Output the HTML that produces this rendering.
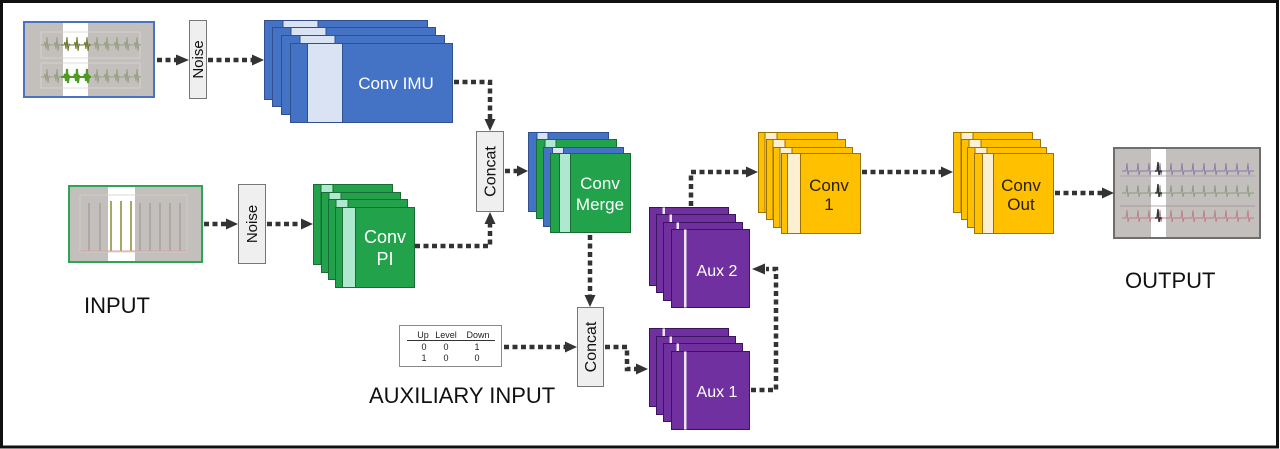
<!DOCTYPE html>
<html><head><meta charset="utf-8"><style>
html,body{margin:0;padding:0;background:#fff;}
svg{display:block;}
text{font-family:"Liberation Sans",Arial,sans-serif;}
</style></head><body>
<svg width="1280" height="449" viewBox="0 0 1280 449" xmlns="http://www.w3.org/2000/svg">
<rect x="0" y="0" width="1280" height="449" fill="#fff"/>
<rect x="1.5" y="1.5" width="1276" height="445.5" fill="none" stroke="#111" stroke-width="3"/>

<!-- IMU input image -->
<rect x="24" y="22" width="130" height="75" fill="#c3bfbc" stroke="#4a72c0" stroke-width="2"/>
<rect x="63" y="23" width="25" height="73" fill="#fff"/>
<rect x="41" y="32" width="99" height="26" fill="none" stroke="#d9d5d0" stroke-width="0.8"/>
<rect x="41" y="63" width="99" height="25" fill="none" stroke="#d9d5d0" stroke-width="0.8"/>
<path d="M41 45 h3 l1 -3 l1 7 l1 -12 l1 14 l1 -7 l1 1 h1 h3 l1 -3 l1 7 l1 -12 l1 14 l1 -7 l1 1 h1 h3 l1 -3 l1 7 l1 -12 l1 14 l1 -7 l1 1 h1 h3 l1 -3 l1 7 l1 -12 l1 14 l1 -7 l1 1 h1 h3 l1 -3 l1 7 l1 -12 l1 14 l1 -7 l1 1 h1 h3 l1 -3 l1 7 l1 -12 l1 14 l1 -7 l1 1 h1 h3 l1 -3 l1 7 l1 -12 l1 14 l1 -7 l1 1 h1 h3 l1 -3 l1 7 l1 -12 l1 14 l1 -7 l1 1 h1 h3 l1 -3 l1 7 l1 -12 l1 14 l1 -7 l1 1 h1 h3 l1 -3 l1 7 l1 -12 l1 14 l1 -7 l1 1 h1" fill="none" stroke="#8f9a7a" stroke-width="0.8"/>
<path d="M61 45 h3 l1 -3 l1 7 l1 -12 l1 14 l1 -7 l1 1 h1 h3 l1 -3 l1 7 l1 -12 l1 14 l1 -7 l1 1 h1 h3 l1 -3 l1 7 l1 -12 l1 14 l1 -7 l1 1 h1" fill="none" stroke="#6b7a2a" stroke-width="1"/>
<path d="M41 77 h3 l1 -3 l1 7 l1 -12 l1 14 l1 -7 l1 1 h1 h3 l1 -3 l1 7 l1 -12 l1 14 l1 -7 l1 1 h1 h3 l1 -3 l1 7 l1 -12 l1 14 l1 -7 l1 1 h1 h3 l1 -3 l1 7 l1 -12 l1 14 l1 -7 l1 1 h1 h3 l1 -3 l1 7 l1 -12 l1 14 l1 -7 l1 1 h1 h3 l1 -3 l1 7 l1 -12 l1 14 l1 -7 l1 1 h1 h3 l1 -3 l1 7 l1 -12 l1 14 l1 -7 l1 1 h1 h3 l1 -3 l1 7 l1 -12 l1 14 l1 -7 l1 1 h1 h3 l1 -3 l1 7 l1 -12 l1 14 l1 -7 l1 1 h1 h3 l1 -3 l1 7 l1 -12 l1 14 l1 -7 l1 1 h1" fill="none" stroke="#8f9a7a" stroke-width="0.8"/>
<path d="M61 77 h3 l1 -3 l1 7 l1 -12 l1 14 l1 -7 l1 1 h1 h3 l1 -3 l1 7 l1 -12 l1 14 l1 -7 l1 1 h1 h3 l1 -3 l1 7 l1 -12 l1 14 l1 -7 l1 1 h1" fill="none" stroke="#4f9a22" stroke-width="2"/>

<!-- PI input image -->
<rect x="69" y="186" width="133" height="76" fill="#c3bfbc" stroke="#2fa455" stroke-width="2"/>
<rect x="108" y="187" width="27" height="74" fill="#fff"/>
<rect x="80" y="195" width="107" height="57" fill="none" stroke="#d6cfcc" stroke-width="0.8"/>
<g stroke="#9a918c" stroke-width="1">
<line x1="89" y1="203" x2="89" y2="251"/><line x1="100" y1="203" x2="100" y2="251"/>
<line x1="140" y1="203" x2="140" y2="251"/><line x1="150" y1="203" x2="150" y2="251"/>
<line x1="160" y1="203" x2="160" y2="251"/><line x1="170" y1="203" x2="170" y2="251"/>
<line x1="180" y1="203" x2="180" y2="251"/>
</g>
<g stroke="#8a8a30" stroke-width="1.5">
<line x1="111" y1="201" x2="111" y2="251"/><line x1="121" y1="201" x2="121" y2="251"/><line x1="131" y1="201" x2="131" y2="251"/>
</g>
<line x1="80" y1="251" x2="187" y2="251" stroke="#d9a0a0" stroke-width="1"/>

<!-- Output image -->
<rect x="1114" y="148" width="146" height="90" fill="#c3bfbc" stroke="#6e6e6e" stroke-width="2"/>
<rect x="1151" y="149" width="15" height="88" fill="#fff"/>
<line x1="1120" y1="176" x2="1255" y2="176" stroke="#a99ab0" stroke-width="0.8"/>
<line x1="1120" y1="206" x2="1255" y2="206" stroke="#9a8f8f" stroke-width="0.8"/>
<path d="M1122 171 h4 l1 -8 l1 12 l1 -4 h4 h4 l1 -8 l1 12 l1 -4 h4 h4 l1 -8 l1 12 l1 -4 h4 h4 l1 -8 l1 12 l1 -4 h4 h4 l1 -8 l1 12 l1 -4 h4 h4 l1 -8 l1 12 l1 -4 h4 h4 l1 -8 l1 12 l1 -4 h4 h4 l1 -8 l1 12 l1 -4 h4 h4 l1 -8 l1 12 l1 -4 h4 h4 l1 -8 l1 12 l1 -4 h4 h4 l1 -8 l1 12 l1 -4 h4 h4 l1 -8 l1 12 l1 -4 h4" fill="none" stroke="#8a7aa8" stroke-width="0.9"/>
<path d="M1122 193 h4 l1 -8 l1 12 l1 -4 h4 h4 l1 -8 l1 12 l1 -4 h4 h4 l1 -8 l1 12 l1 -4 h4 h4 l1 -8 l1 12 l1 -4 h4 h4 l1 -8 l1 12 l1 -4 h4 h4 l1 -8 l1 12 l1 -4 h4 h4 l1 -8 l1 12 l1 -4 h4 h4 l1 -8 l1 12 l1 -4 h4 h4 l1 -8 l1 12 l1 -4 h4 h4 l1 -8 l1 12 l1 -4 h4 h4 l1 -8 l1 12 l1 -4 h4 h4 l1 -8 l1 12 l1 -4 h4" fill="none" stroke="#8a9a80" stroke-width="0.9"/>
<path d="M1122 218 h4 l1 -8 l1 12 l1 -4 h4 h4 l1 -8 l1 12 l1 -4 h4 h4 l1 -8 l1 12 l1 -4 h4 h4 l1 -8 l1 12 l1 -4 h4 h4 l1 -8 l1 12 l1 -4 h4 h4 l1 -8 l1 12 l1 -4 h4 h4 l1 -8 l1 12 l1 -4 h4 h4 l1 -8 l1 12 l1 -4 h4 h4 l1 -8 l1 12 l1 -4 h4 h4 l1 -8 l1 12 l1 -4 h4 h4 l1 -8 l1 12 l1 -4 h4 h4 l1 -8 l1 12 l1 -4 h4" fill="none" stroke="#c07a88" stroke-width="0.9"/>
<path d="M1155 171 h2 l1 -9 l1 13 l1 -4 h2 M1155 193 h2 l1 -9 l1 13 l1 -4 h2 M1155 218 h2 l1 -9 l1 13 l1 -4 h2" fill="none" stroke="#333" stroke-width="1.4"/>

<!-- Noise / Concat boxes -->
<rect x="189.5" y="20.5" width="17" height="78" fill="#efefef" stroke="#777" stroke-width="1"/>
<text x="0" y="0" transform="translate(203,59.5) rotate(-90)" font-size="15" text-anchor="middle" fill="#111">Noise</text>
<rect x="238.5" y="184.5" width="27" height="79" fill="#efefef" stroke="#777" stroke-width="1"/>
<text x="0" y="0" transform="translate(257,224) rotate(-90)" font-size="15" text-anchor="middle" fill="#111">Noise</text>
<rect x="476.5" y="131.5" width="27" height="80" fill="#efefef" stroke="#777" stroke-width="1"/>
<text x="0" y="0" transform="translate(495.5,171.5) rotate(-90)" font-size="16" text-anchor="middle" fill="#111">Concat</text>
<rect x="577.5" y="307.5" width="26" height="79" fill="#efefef" stroke="#777" stroke-width="1"/>
<text x="0" y="0" transform="translate(596,347) rotate(-90)" font-size="16" text-anchor="middle" fill="#111">Concat</text>

<!-- Conv IMU stack -->
<g stroke="#2f4f8f" stroke-width="1">
<rect x="264.5" y="20.5" width="163" height="79" fill="#4472c4"/><rect x="283" y="20.5" width="35" height="79" fill="#dae3f3"/>
<rect x="272.5" y="27.5" width="163" height="79" fill="#4472c4"/><rect x="291" y="27.5" width="35" height="79" fill="#dae3f3"/>
<rect x="281.5" y="35.5" width="163" height="79" fill="#4472c4"/><rect x="300" y="35.5" width="35" height="79" fill="#dae3f3"/>
<rect x="290.5" y="43.5" width="162" height="79" fill="#4472c4"/><rect x="307.5" y="43.5" width="35" height="79" fill="#dae3f3"/>
</g>
<text x="396" y="89" font-size="17" fill="#fff" text-anchor="middle">Conv IMU</text>

<!-- Conv PI stack -->
<g stroke="#1a6b36" stroke-width="1">
<rect x="313.5" y="184.5" width="79" height="80" fill="#22a34b"/><rect x="321" y="184.5" width="12" height="80" fill="#aee9cf"/>
<rect x="321.5" y="192.5" width="79" height="80" fill="#22a34b"/><rect x="329" y="192.5" width="12" height="80" fill="#aee9cf"/>
<rect x="328.5" y="199.5" width="79" height="80" fill="#22a34b"/><rect x="336" y="199.5" width="12" height="80" fill="#aee9cf"/>
<rect x="335.5" y="207.5" width="79" height="80" fill="#22a34b"/><rect x="342.5" y="207.5" width="13" height="80" fill="#aee9cf"/>
</g>
<text x="385" y="243" font-size="18" fill="#fff" text-anchor="middle">Conv</text>
<text x="385" y="265" font-size="18" fill="#fff" text-anchor="middle">PI</text>

<!-- Conv Merge stack -->
<g stroke-width="1">
<rect x="528.5" y="132.5" width="80" height="79" fill="#4472c4" stroke="#2f4f8f"/><rect x="537" y="132.5" width="11" height="79" fill="#dae3f3" stroke="#2f4f8f"/>
<rect x="536.5" y="139.5" width="80" height="79" fill="#22a34b" stroke="#1a6b36"/><rect x="545" y="139.5" width="11" height="79" fill="#aee9cf" stroke="#1a6b36"/>
<rect x="543.5" y="147.5" width="80" height="79" fill="#4472c4" stroke="#2f4f8f"/><rect x="552.5" y="147.5" width="11" height="79" fill="#dae3f3" stroke="#2f4f8f"/>
<rect x="550.5" y="153.5" width="80" height="79" fill="#22a34b" stroke="#1a6b36"/><rect x="559.5" y="153.5" width="11" height="79" fill="#aee9cf" stroke="#1a6b36"/>
</g>
<text x="600" y="189" font-size="17" fill="#fff" text-anchor="middle">Conv</text>
<text x="600" y="210" font-size="17" fill="#fff" text-anchor="middle">Merge</text>

<!-- Aux 2 stack -->
<g stroke="#3b1460" stroke-width="1">
<rect x="649.5" y="207.5" width="79" height="78" fill="#7030a0"/><rect x="662.5" y="207.5" width="2.5" height="78" fill="#ece4f2" stroke="none"/>
<rect x="656.5" y="214.5" width="79" height="78" fill="#7030a0"/><rect x="669.5" y="214.5" width="2.5" height="78" fill="#ece4f2" stroke="none"/>
<rect x="663.5" y="222.5" width="79" height="78" fill="#7030a0"/><rect x="676.5" y="222.5" width="2.5" height="78" fill="#ece4f2" stroke="none"/>
<rect x="671.5" y="229.5" width="78" height="78" fill="#7030a0"/><rect x="684" y="229.5" width="2.5" height="78" fill="#ece4f2" stroke="none"/>
</g>
<text x="717" y="276" font-size="16" fill="#fff" text-anchor="middle">Aux 2</text>

<!-- Aux 1 stack -->
<g stroke="#3b1460" stroke-width="1">
<rect x="649.5" y="328.5" width="79" height="78" fill="#7030a0"/><rect x="662.5" y="328.5" width="2.5" height="78" fill="#ece4f2" stroke="none"/>
<rect x="656.5" y="336.5" width="79" height="78" fill="#7030a0"/><rect x="669.5" y="336.5" width="2.5" height="78" fill="#ece4f2" stroke="none"/>
<rect x="663.5" y="343.5" width="79" height="78" fill="#7030a0"/><rect x="676.5" y="343.5" width="2.5" height="78" fill="#ece4f2" stroke="none"/>
<rect x="671.5" y="351.5" width="78" height="78" fill="#7030a0"/><rect x="684" y="351.5" width="2.5" height="78" fill="#ece4f2" stroke="none"/>
</g>
<text x="717" y="397" font-size="16" fill="#fff" text-anchor="middle">Aux 1</text>

<!-- Conv 1 stack -->
<g stroke="#9a7400" stroke-width="1">
<rect x="758.5" y="132.5" width="79" height="80" fill="#ffc000"/><rect x="765" y="132.5" width="12" height="80" fill="#fdf0d2"/>
<rect x="766.5" y="139.5" width="79" height="80" fill="#ffc000"/><rect x="773" y="139.5" width="12" height="80" fill="#fdf0d2"/>
<rect x="773.5" y="147.5" width="79" height="80" fill="#ffc000"/><rect x="780" y="147.5" width="12" height="80" fill="#fdf0d2"/>
<rect x="781.5" y="153.5" width="79" height="80" fill="#ffc000"/><rect x="787.5" y="153.5" width="13" height="80" fill="#fdf0d2"/>
</g>
<text x="829" y="191" font-size="17" fill="#2a2000" text-anchor="middle">Conv</text>
<text x="829" y="210" font-size="17" fill="#2a2000" text-anchor="middle">1</text>

<!-- Conv Out stack -->
<g stroke="#9a7400" stroke-width="1">
<rect x="953.5" y="132.5" width="79" height="80" fill="#ffc000"/><rect x="961" y="132.5" width="12" height="80" fill="#fdf0d2"/>
<rect x="961.5" y="139.5" width="79" height="80" fill="#ffc000"/><rect x="969" y="139.5" width="12" height="80" fill="#fdf0d2"/>
<rect x="967.5" y="147.5" width="79" height="80" fill="#ffc000"/><rect x="975" y="147.5" width="12" height="80" fill="#fdf0d2"/>
<rect x="974.5" y="153.5" width="79" height="80" fill="#ffc000"/><rect x="982.5" y="153.5" width="11" height="80" fill="#fdf0d2"/>
</g>
<text x="1021" y="191" font-size="17" fill="#2a2000" text-anchor="middle">Conv</text>
<text x="1021" y="210" font-size="17" fill="#2a2000" text-anchor="middle">Out</text>

<!-- Aux input table -->
<rect x="399.5" y="325.5" width="102" height="41" fill="#fff" stroke="#8a8a8a" stroke-width="1"/>
<line x1="407" y1="340.5" x2="495" y2="340.5" stroke="#333" stroke-width="1"/>
<g font-size="9" fill="#222" text-anchor="middle">
<text x="423" y="338">Up</text><text x="446" y="338">Level</text><text x="478" y="338">Down</text>
<text x="424" y="350">0</text><text x="446" y="350">0</text><text x="477" y="350">1</text>
<text x="424" y="361">1</text><text x="446" y="361">0</text><text x="477" y="361">0</text>
</g>

<!-- Labels -->
<text x="84" y="313" font-size="22" fill="#111">INPUT</text>
<text x="369" y="403" font-size="22" fill="#111">AUXILIARY INPUT</text>
<text x="1125" y="288" font-size="22" fill="#111">OUTPUT</text>

<!-- Connectors -->
<g fill="none" stroke="#333" stroke-width="4.5" stroke-dasharray="5 3.5">
<path d="M157 60 H176"/>
<path d="M208 60 H252"/>
<path d="M454 82 H490 V119"/>
<path d="M204 224 H226"/>
<path d="M267 224 H301"/>
<path d="M415 246 H490 V224"/>
<path d="M505 171 H517"/>
<path d="M590 235 V295"/>
<path d="M504 347 H565"/>
<path d="M605 347 H627 V369 H636"/>
<path d="M751 390 H776 V269 H766"/>
<path d="M691 206 V172 H746"/>
<path d="M862 172 H941"/>
<path d="M1055 193 H1102"/>
</g>
<g fill="#333">
<polygon points="176,54.5 189,60 176,65.5"/>
<polygon points="252,54.5 264,60 252,65.5"/>
<polygon points="484.5,119 495.5,119 490,131"/>
<polygon points="226,218.5 238,224 226,229.5"/>
<polygon points="301,218.5 313,224 301,229.5"/>
<polygon points="484.5,224 495.5,224 490,212"/>
<polygon points="517,165.5 528,171 517,176.5"/>
<polygon points="584.5,295 595.5,295 590,307"/>
<polygon points="565,341.5 577,347 565,352.5"/>
<polygon points="636,363.5 648,369 636,374.5"/>
<polygon points="765,263.5 752,269 765,274.5"/>
<polygon points="746,166.5 758,172 746,177.5"/>
<polygon points="941,166.5 953,172 941,177.5"/>
<polygon points="1102,187.5 1114,193 1102,198.5"/>
</g>
</svg>
</body></html>
